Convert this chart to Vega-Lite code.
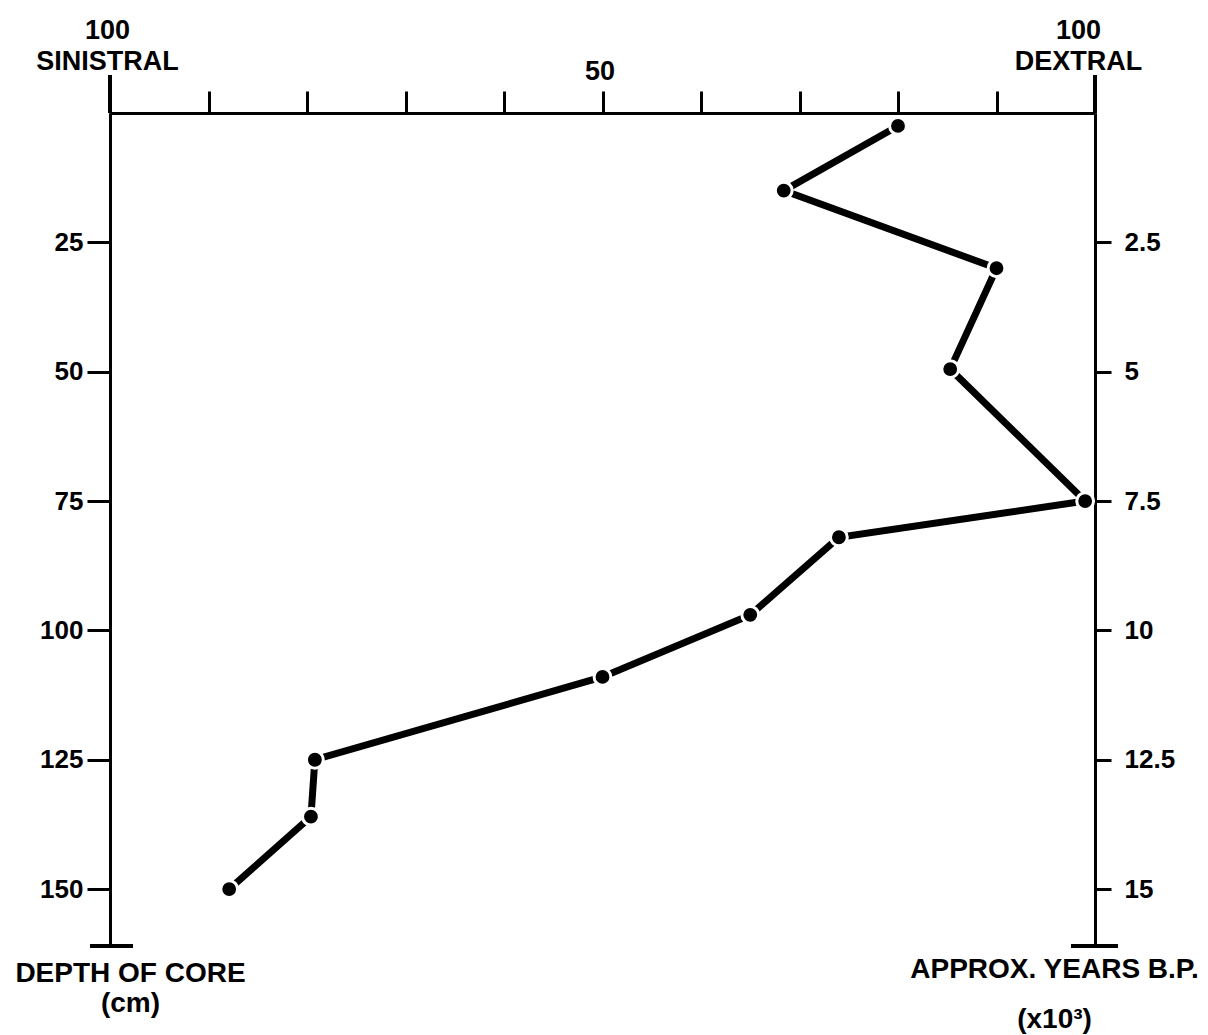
{
  "$schema": "https://vega.github.io/schema/vega-lite/v6.json",
  "width": 985,
  "height": 833,
  "autosize": {"type": "none"},
  "padding": {"left": 110, "top": 113, "right": 113, "bottom": 89},
  "background": "white",
  "config": {
    "view": {"stroke": null},
    "axis": {
      "grid": false,
      "domainColor": "black",
      "domainWidth": 3,
      "tickColor": "black",
      "tickWidth": 3,
      "labelColor": "black",
      "titleColor": "black",
      "labelFont": "Liberation Sans",
      "titleFont": "Liberation Sans",
      "labelFontSize": 26,
      "titleFontSize": 28,
      "labelFontWeight": "bold",
      "titleFontWeight": "bold",
      "labelOverlap": false,
      "labelFlush": false,
      "labelBound": false
    }
  },
  "data": {
    "values": [
      {"depth": 2.5, "dextral": 80},
      {"depth": 15, "dextral": 68.4},
      {"depth": 30, "dextral": 90},
      {"depth": 49.5, "dextral": 85.3},
      {"depth": 75, "dextral": 99},
      {"depth": 82, "dextral": 74},
      {"depth": 97, "dextral": 65},
      {"depth": 109, "dextral": 50},
      {"depth": 125, "dextral": 20.8},
      {"depth": 136, "dextral": 20.4},
      {"depth": 150, "dextral": 12.1}
    ]
  },
  "layer": [
    {
      "mark": {"type": "line", "color": "black", "strokeWidth": 7},
      "encoding": {
        "x": {
          "field": "dextral",
          "type": "quantitative",
          "scale": {"domain": [0, 100], "nice": false},
          "axis": {
            "orient": "top",
            "title": null,
            "values": [0, 10, 20, 30, 40, 50, 60, 70, 80, 90, 100],
            "tickSize": 22,
            "labelFontSize": 27,
            "labelPadding": {"condition": {"test": "datum.value == 0 || datum.value == 100", "value": 47}, "value": 6},
            "labelLineHeight": 31,
            "labelOffset": {"condition": {"test": "datum.value == 100", "value": -17}, "value": -3},
            "labelExpr": "datum.value == 0 ? ['100', 'SINISTRAL'] : datum.value == 100 ? ['100', 'DEXTRAL'] : datum.value == 50 ? '50' : ''"
          }
        },
        "y": {
          "field": "depth",
          "type": "quantitative",
          "scale": {"domain": [0, 161], "nice": false, "reverse": true},
          "axis": {
            "orient": "left",
            "values": [25, 50, 75, 100, 125, 150],
            "tickSize": 23,
            "labelPadding": 4,
            "title": ["DEPTH OF CORE", "(cm)"],
            "titleAngle": 0,
            "titleAlign": "center",
            "titleBaseline": "alphabetic",
            "titleX": 20,
            "titleY": 868,
            "titleLineHeight": 30
          }
        },
        "order": {"field": "depth", "type": "quantitative"}
      }
    },
    {
      "mark": {"type": "point", "filled": true, "color": "black", "size": 283, "stroke": "white", "strokeWidth": 3, "opacity": 1},
      "encoding": {
        "x": {"field": "dextral", "type": "quantitative"},
        "y": {
          "field": "depth",
          "type": "quantitative",
          "axis": {
            "orient": "right",
            "values": [25, 50, 75, 100, 125, 150],
            "tickSize": 16,
            "labelPadding": 13,
            "labelExpr": "datum.value / 10",
            "title": ["APPROX. YEARS B.P.", "(x10³)"],
            "titleAngle": 0,
            "titleAlign": "center",
            "titleBaseline": "alphabetic",
            "titleX": -41,
            "titleY": 864,
            "titleLineHeight": 50
          }
        }
      }
    },
    {
      "mark": {"type": "rule", "color": "black", "strokeWidth": 3},
      "encoding": {
        "x": {"datum": -2},
        "x2": {"datum": 2.3},
        "y": {"datum": 161, "axis": null}
      }
    },
    {
      "mark": {"type": "rule", "color": "black", "strokeWidth": 3},
      "encoding": {
        "x": {"datum": 97.6},
        "x2": {"datum": 102.3},
        "y": {"datum": 161, "axis": null}
      }
    },
    {
      "mark": {"type": "rule", "color": "black", "strokeWidth": 3},
      "encoding": {
        "x": {"datum": 0},
        "y": {"datum": 0, "axis": null},
        "y2": {"datum": -7.3}
      }
    },
    {
      "mark": {"type": "rule", "color": "black", "strokeWidth": 3},
      "encoding": {
        "x": {"datum": 100},
        "y": {"datum": 0, "axis": null},
        "y2": {"datum": -7.3}
      }
    }
  ],
  "resolve": {"axis": {"y": "independent"}}
}
